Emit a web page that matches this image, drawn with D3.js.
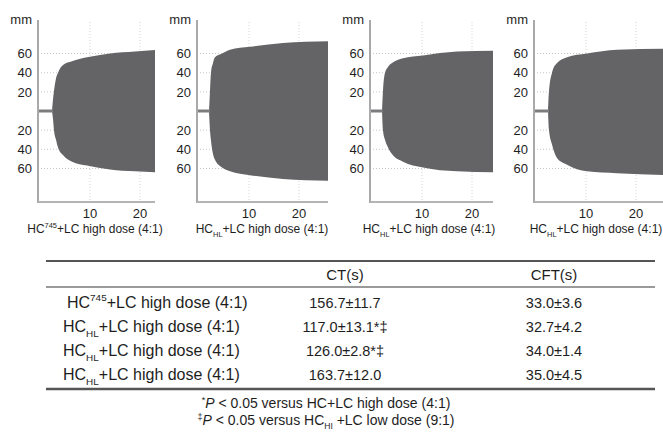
<!DOCTYPE html>
<html>
<head>
<style>
  body { margin: 0; background: #fff; }
  svg text { font-family: "Liberation Sans", Arial, Helvetica, sans-serif; fill: #1e1e1e; }
</style>
<script src="https://d3js.org/d3.v7.min.js"></script>
</head>
<body>
<script>
// ---- data ----
const panelMark = ["745", "HL", "HL", "HL"];          // superscript / subscript after "HC"
const panelMarkType = ["sup", "sub", "sub", "sub"];
const ampTicks = [-60, -40, -20, 20, 40, 60];
const timeTicks = [10, 20];
const splitTime = [2.4, 2.0, 2.0, 2.4];               // end of the flat line (min)
const traceTime = [
  [2.4, 2.6, 2.8, 3.2, 3.6, 4.6, 6.4, 9.4, 14, 19, 23.5],
  [2.0, 2.2, 2.4, 2.8, 3.2, 4.6, 6.2, 10.2, 16.8, 26.5],
  [2.0, 2.2, 2.6, 3.2, 4.0, 6.2, 10.2, 17, 24.5],
  [2.4, 2.6, 3.2, 4.2, 6.2, 10.2, 16.2, 26]
];
const upperAmp = [
  [0, 12, 21, 34, 40, 48, 52, 56, 60, 62, 64],
  [0, 21, 40, 50, 56, 60, 64, 67, 71, 73],
  [0, 21, 40, 46, 50, 55, 58, 62, 63],
  [0, 21, 40, 50, 56, 60, 64, 65]
];
const lowerAmp = [
  [0, 8, 20, 30, 38, 46, 53, 57, 61, 63, 64],
  [0, 20, 31, 45, 51, 59, 63, 67, 71, 73],
  [0, 20, 30, 38, 45, 53, 59, 63, 64],
  [0, 20, 35, 49, 56, 63, 65, 67]
];

const tableHeader = ["CT(s)", "CFT(s)"];
const rowMark = ["745", "HL", "HL", "HL"];
const rowMarkType = ["sup", "sub", "sub", "sub"];
const ctValues = ["156.7\u00b111.7", "117.0\u00b113.1*\u2021", "126.0\u00b12.8*\u2021", "163.7\u00b112.0"];
const cftValues = ["33.0\u00b13.6", "32.7\u00b14.2", "34.0\u00b11.4", "35.0\u00b14.5"];

// ---- layout ----
const w = 663, h = 434;
const axisX = [38, 197, 370, 534];
const panelW = [117, 131, 123, 129];
const captionX = [95, 262, 429, 596];
const plotTop = 20, plotBottom = 202;

const svg = d3.select("body").append("svg")
  .attr("width", w).attr("height", h);

const y = d3.scaleLinear().domain([95, -95]).range([plotTop, plotBottom]);

function hcLabel(g, x, yy, mark, type, rest, size, anchor) {
  const t = g.append("text").attr("x", x).attr("y", yy)
    .attr("font-size", size).attr("text-anchor", anchor);
  const shift = type === "sup" ? -size * 0.42 : size * 0.32;
  t.append("tspan").text("HC");
  t.append("tspan").attr("font-size", size * 0.62).attr("dy", shift).text(mark);
  t.append("tspan").attr("dy", -shift).text(rest);
  return t;
}

axisX.forEach((ax, i) => {
  const g = svg.append("g");
  const x = d3.scaleLinear().domain([0, 25]).range([ax + 2, ax + 127]);
  const right = ax + panelW[i];

  g.append("clipPath").attr("id", "clip" + i)
    .append("rect").attr("x", ax).attr("y", plotTop).attr("width", panelW[i]).attr("height", plotBottom - plotTop);

  // dotted grid
  g.selectAll(".hg").data(ampTicks).enter().append("line")
    .attr("x1", ax).attr("x2", right)
    .attr("y1", d => y(d)).attr("y2", d => y(d))
    .attr("stroke", "#c8c8c8").attr("stroke-dasharray", "1,2");
  g.selectAll(".vg").data(timeTicks).enter().append("line")
    .attr("x1", d => x(d)).attr("x2", d => x(d))
    .attr("y1", plotTop + 2).attr("y2", plotBottom)
    .attr("stroke", "#d4d4d4").attr("stroke-dasharray", "1,2");

  // trace
  const pts = traceTime[i].map((t, k) => ({ t: t, up: upperAmp[i][k], lo: lowerAmp[i][k] }));
  const area = d3.area()
    .x(d => x(d.t)).y0(d => y(-d.lo)).y1(d => y(d.up))
    .curve(d3.curveMonotoneX);
  g.append("path").datum(pts).attr("d", area)
    .attr("fill", "#646466").attr("clip-path", "url(#clip" + i + ")");
  g.append("line")
    .attr("x1", ax).attr("x2", x(splitTime[i]) + 1)
    .attr("y1", y(0)).attr("y2", y(0))
    .attr("stroke", "#7c7c7e").attr("stroke-width", 3);

  // axes
  g.append("line").attr("x1", ax).attr("x2", ax).attr("y1", plotTop).attr("y2", plotBottom + 1)
    .attr("stroke", "#a9a9ab").attr("stroke-width", 2);
  g.append("line").attr("x1", ax).attr("x2", right).attr("y1", plotBottom).attr("y2", plotBottom)
    .attr("stroke", "#b4b4b6").attr("stroke-width", 2);

  g.append("text").attr("x", ax - 6).attr("y", 24).attr("text-anchor", "end")
    .attr("font-size", 13).text("mm");
  g.selectAll(".yl").data(ampTicks).enter().append("text")
    .attr("x", ax - 6).attr("y", d => y(d)).attr("dy", "0.36em")
    .attr("text-anchor", "end").attr("font-size", 13)
    .text(d => Math.abs(d));
  g.selectAll(".xl").data(timeTicks).enter().append("text")
    .attr("x", d => x(d)).attr("y", 218).attr("text-anchor", "middle")
    .attr("font-size", 13).text(d => d);

  hcLabel(g, captionX[i], 233, panelMark[i], panelMarkType[i], "+LC high dose (4:1)", 12, "middle");
});

// ---- table ----
const tl = 46, tr = 655;
const colCT = 345, colCFT = 554;
const rowY = [308, 332, 356, 380];

svg.append("line").attr("x1", tl).attr("x2", tr).attr("y1", 261).attr("y2", 261)
  .attr("stroke", "#555").attr("stroke-width", 2.2);
svg.append("line").attr("x1", tl).attr("x2", tr).attr("y1", 287).attr("y2", 287)
  .attr("stroke", "#9a9a9a").attr("stroke-width", 2);
svg.append("line").attr("x1", tl).attr("x2", tr).attr("y1", 389).attr("y2", 389)
  .attr("stroke", "#555").attr("stroke-width", 2.4);

svg.selectAll(".th").data(tableHeader).enter().append("text")
  .attr("x", (d, i) => i === 0 ? colCT : colCFT).attr("y", 280)
  .attr("text-anchor", "middle").attr("font-size", 15).text(d => d);

rowY.forEach((ry, i) => {
  hcLabel(svg, i === 0 ? 67 : 63, ry, rowMark[i], rowMarkType[i], "+LC high dose (4:1)", 16, "start");
  svg.append("text").attr("x", colCT).attr("y", ry).attr("text-anchor", "middle")
    .attr("font-size", 14.5).text(ctValues[i]);
  svg.append("text").attr("x", colCFT).attr("y", ry).attr("text-anchor", "middle")
    .attr("font-size", 14.5).text(cftValues[i]);
});

// ---- footnotes ----
const f1 = svg.append("text").attr("x", 326).attr("y", 408).attr("text-anchor", "middle").attr("font-size", 14);
f1.append("tspan").attr("font-size", 9).attr("dy", -5).text("*");
f1.append("tspan").attr("dy", 5).attr("font-style", "italic").text("P");
f1.append("tspan").text(" < 0.05 versus HC+LC high dose (4:1)");

const f2 = svg.append("text").attr("x", 326).attr("y", 425).attr("text-anchor", "middle").attr("font-size", 14);
f2.append("tspan").attr("font-size", 9).attr("dy", -5).text("\u2021");
f2.append("tspan").attr("dy", 5).attr("font-style", "italic").text("P");
f2.append("tspan").text(" < 0.05 versus HC");
f2.append("tspan").attr("font-size", 8.5).attr("dy", 4).text("HI");
f2.append("tspan").attr("dy", -4).text(" +LC low dose (9:1)");
</script>
</body>
</html>
